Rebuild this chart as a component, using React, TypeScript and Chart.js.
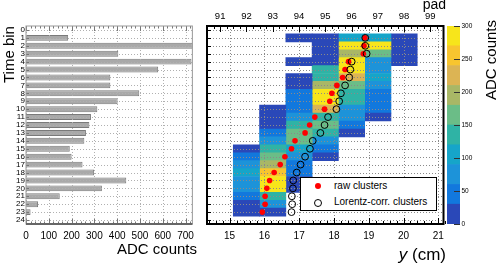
import React, { useEffect, useRef } from "react";
import { Chart, registerables } from "chart.js";

Chart.register(...registerables);

const FONT = "'Liberation Sans', Arial, Helvetica, sans-serif";

// ---------------- data ----------------
const timeBins = [0, 1, 2, 3, 4, 5, 6, 7, 8, 9, 10, 11, 12, 13, 14, 15, 16, 17, 18, 19, 20, 21, 22, 23, 24];
const timeBinLabels = ["0", "1", "2", "3", "4", "5", "6", "7", "8", "9", "10", "11", "12", "13", "14", "15", "16", "17", "18", "19", "20", "21", "22", "23", "24"];
const binAdcCounts = [0, 185, 732, 405, 726, 580, 370, 370, 497, 402, 313, 285, 278, 263, 256, 192, 200, 248, 299, 440, 333, 148, 53, 20, 0];
const adcTickValues = [0, 100, 200, 300, 400, 500, 600, 700];

const padNumbers = [91, 92, 93, 94, 95, 96, 97, 98, 99];
const yCmTicks = [15, 16, 17, 18, 19, 20, 21];
const colorBarTicks = [0, 50, 100, 150, 200, 250, 300];
const colorLevels = [0, 30, 60, 90, 120, 150, 180, 210, 240, 270, 300];
const levelColors = ["#2a48b8", "#1278dd", "#1d93d9", "#16a5c9", "#2fb3a5", "#6bbd87", "#a9b766", "#dcb454", "#f8c52f", "#f7e51b"];

// ADC counts per pad, indexed by time bin (null = empty cell)
const pad91: (number | null)[] = [null, null, null, null, null, null, null, null, null, null, null, null, null, null, null, null, null, null, null, null, null, null, null, null, null];
const pad92: (number | null)[] = [null, null, null, null, null, null, null, null, null, null, null, null, null, null, null, 20, 45, 70, 100, 80, 60, 40, 20, 15, null];
const pad93: (number | null)[] = [null, null, null, null, null, null, null, null, null, null, 15, 15, 20, 40, 60, 130, 160, 200, 240, 290, 285, 120, 70, 25, null];
const pad94: (number | null)[] = [null, 15, null, null, 15, null, 15, 15, 35, 40, 45, 70, 120, 170, 150, 90, 60, 40, 30, 25, 15, null, null, null, null];
const pad95: (number | null)[] = [null, 15, 15, 20, 25, 130, 140, 190, 285, 280, 230, 140, 170, 130, 80, 40, 20, null, null, null, null, null, null, null, null];
const pad96: (number | null)[] = [null, 100, 285, 200, 280, 285, 220, 150, 130, 140, 80, 60, 40, 20, null, null, null, null, null, null, null, null, null, null, null];
const pad97: (number | null)[] = [null, 100, 280, 160, 70, 70, 100, 60, 50, 40, 30, 20, null, null, null, null, null, null, null, null, null, null, null, null, null];
const pad98: (number | null)[] = [null, 15, 15, 15, 15, null, null, null, null, null, null, null, null, null, null, null, null, null, null, null, null, null, null, null, null];
const pad99: (number | null)[] = [null, null, null, null, null, null, null, null, null, null, null, null, null, null, null, null, null, null, null, null, null, null, null, null, null];
const padColumns = [pad91, pad92, pad93, pad94, pad95, pad96, pad97, pad98, pad99];

// cluster positions y (cm) per time bin
const rawClusterY: (number | null)[] = [null, 18.89, 18.865, 18.845, 18.42, 18.32, 18.25, 18.085, 17.94, 17.88, 17.73, 17.45, 17.30, 17.17, 16.88, 16.78, 16.59, 16.455, 16.28, 16.15, 16.07, 16.02, 16.02, 15.94, null];
const corrClusterY: (number | null)[] = [null, 18.90, 18.90, 18.94, 18.51, 18.47, 18.44, 18.32, 18.20, 18.15, 18.07, 17.83, 17.73, 17.61, 17.39, 17.31, 17.17, 17.04, 16.93, 16.83, 16.82, 16.79, 16.80, 16.78, null];

// axis ranges
const CM_MIN = 14.35;
const CM_MAX = 21.15;
const PAD_MIN = 90.5;
const PAD_MAX = 99.5;
const ADC_MAX = 730;

// ---------------- helpers ----------------
function padToCm(p: number) {
  return CM_MIN + ((p - PAD_MIN) * (CM_MAX - CM_MIN)) / (PAD_MAX - PAD_MIN);
}
function colorFor(v: number) {
  for (let i = levelColors.length - 1; i >= 0; i--) {
    if (v >= colorLevels[i]) return levelColors[i];
  }
  return levelColors[0];
}
function steps(from: number, to: number, step: number, skipEvery?: number) {
  const out: number[] = [];
  const n = Math.round((to - from) / step);
  for (let i = 0; i <= n; i++) {
    const v = from + i * step;
    if (skipEvery && Math.abs(v / skipEvery - Math.round(v / skipEvery)) < 1e-6) continue;
    out.push(v);
  }
  return out;
}

function drawGrid(chart: any, o: any) {
  if (!o || !o.grid) return;
  const { ctx, chartArea: a } = chart;
  ctx.save();
  ctx.beginPath();
  ctx.rect(a.left, a.top, a.right - a.left, a.bottom - a.top);
  ctx.clip();
  ctx.strokeStyle = o.gridColor;
  ctx.lineWidth = 1;
  ctx.setLineDash([1, 2]);
  for (const g of o.grid) {
    const s = chart.scales[g.axis];
    for (const v of g.values) {
      const p = Math.round(s.getPixelForValue(v)) + 0.5;
      ctx.beginPath();
      if (s.isHorizontal()) {
        ctx.moveTo(p, a.top);
        ctx.lineTo(p, a.bottom);
      } else {
        ctx.moveTo(a.left, p);
        ctx.lineTo(a.right, p);
      }
      ctx.stroke();
    }
  }
  ctx.restore();
}

function drawTicksAndFrame(chart: any, o: any) {
  if (!o) return;
  const { ctx, chartArea: a } = chart;
  ctx.save();
  if (o.ticks) {
    ctx.strokeStyle = o.tickColor;
    ctx.lineWidth = 1;
    for (const t of o.ticks) {
      const s = chart.scales[t.axis];
      for (const v of t.values) {
        const p = Math.round(s.getPixelForValue(v)) + 0.5;
        ctx.beginPath();
        if (t.edge === "bottom") {
          ctx.moveTo(p, a.bottom);
          ctx.lineTo(p, a.bottom - t.len);
        } else if (t.edge === "top") {
          ctx.moveTo(p, a.top);
          ctx.lineTo(p, a.top + t.len);
        } else if (t.edge === "left") {
          ctx.moveTo(a.left, p);
          ctx.lineTo(a.left + t.len, p);
        } else {
          ctx.moveTo(a.right, p);
          ctx.lineTo(a.right - t.len, p);
        }
        ctx.stroke();
      }
    }
  }
  if (o.frameWidth) {
    ctx.strokeStyle = o.frameColor;
    ctx.lineWidth = o.frameWidth;
    ctx.strokeRect(a.left, a.top, a.right - a.left, a.bottom - a.top);
  }
  if (o.bottomWidth) {
    ctx.strokeStyle = o.bottomColor;
    ctx.lineWidth = o.bottomWidth;
    ctx.beginPath();
    ctx.moveTo(a.left, a.bottom);
    ctx.lineTo(a.right, a.bottom);
    ctx.stroke();
  }
  ctx.restore();
}

const rootDeco = {
  id: "rootDeco",
  beforeDatasetsDraw(chart: any) {
    chart.$gridDone = false;
  },
  beforeDatasetDraw(chart: any, args: any, opts: any) {
    if (args.meta.type === "scatter" && !chart.$gridDone) {
      drawGrid(chart, opts);
      chart.$gridDone = true;
    }
  },
  afterDatasetsDraw(chart: any, _args: any, opts: any) {
    if (!chart.$gridDone) {
      drawGrid(chart, opts);
      chart.$gridDone = true;
    }
  },
  afterDraw(chart: any, _args: any, opts: any) {
    drawTicksAndFrame(chart, opts);
  },
};

Chart.defaults.font.family = FONT;
Chart.defaults.color = "#000";

export default function App() {
  const leftRef = useRef<HTMLCanvasElement>(null);
  const mapRef = useRef<HTMLCanvasElement>(null);
  const barRef = useRef<HTMLCanvasElement>(null);

  useEffect(() => {
    const charts: Chart[] = [];

    // ---------- left: ADC counts per time bin ----------
    charts.push(
      new Chart(leftRef.current!, {
        type: "bar",
        data: {
          labels: timeBinLabels,
          datasets: [
            {
              label: "ADC counts",
              data: binAdcCounts,
              backgroundColor: "#a9a9a9",
              borderColor: "#7a7a7a",
              borderWidth: 1,
              barPercentage: 0.75,
              categoryPercentage: 1,
            },
          ],
        },
        options: {
          indexAxis: "y",
          animation: false,
          responsive: false,
          maintainAspectRatio: false,
          layout: { padding: { top: 26, right: 3, left: 0, bottom: 0 } },
          plugins: {
            legend: { display: false },
            tooltip: { enabled: false },
            rootDeco: {
              gridColor: "#b0b0b0",
              grid: [
                { axis: "x", values: adcTickValues },
                { axis: "y", values: timeBins },
              ],
              tickColor: "#777",
              ticks: [
                { axis: "x", edge: "bottom", len: 5, values: adcTickValues },
                { axis: "x", edge: "bottom", len: 2.5, values: steps(0, 720, 20, 100) },
                { axis: "x", edge: "top", len: 5, values: adcTickValues },
                { axis: "x", edge: "top", len: 2.5, values: steps(0, 720, 20, 100) },
                { axis: "y", edge: "left", len: 3, values: timeBins },
              ],
              frameColor: "#999",
              frameWidth: 1,
              bottomColor: "#666",
              bottomWidth: 2,
            },
          } as any,
          scales: {
            x: {
              type: "linear",
              min: 0,
              max: ADC_MAX,
              offset: false,
              afterBuildTicks: (s: any) => {
                s.ticks = adcTickValues.map((v) => ({ value: v }));
              },
              afterFit: (s: any) => {
                s.height = 40;
              },
              grid: { display: false, drawTicks: false },
              border: { display: false },
              ticks: { font: { size: 10 }, color: "#000", padding: 6, maxRotation: 0 },
            },
            y: {
              type: "category",
              afterFit: (s: any) => {
                s.width = 26;
              },
              grid: { display: false, drawTicks: false },
              border: { display: false },
              ticks: { font: { size: 8 }, color: "#000", padding: 1, autoSkip: false },
            },
          },
        },
        plugins: [rootDeco as any],
      })
    );

    // ---------- right: pad x time bin map ----------
    const padDatasets = padNumbers.map((p, k) => {
      const col = padColumns[k];
      const cells = timeBins
        .filter((b) => col[b] !== null)
        .map((b) => ({ x: [padToCm(p - 0.5), padToCm(p + 0.5)], y: b, v: col[b] as number }));
      return {
        type: "bar" as const,
        label: "pad " + p,
        data: cells as any,
        indexAxis: "y" as const,
        grouped: false,
        barPercentage: 1,
        categoryPercentage: 1,
        borderWidth: 0,
        backgroundColor: (ctx: any) => (ctx.raw ? colorFor(ctx.raw.v) : "rgba(0,0,0,0)"),
        xAxisID: "x",
        yAxisID: "y",
        order: 2,
      };
    });
    const rawPts = timeBins.filter((b) => rawClusterY[b] !== null).map((b) => ({ x: rawClusterY[b] as number, y: b }));
    const corrPts = timeBins.filter((b) => corrClusterY[b] !== null).map((b) => ({ x: corrClusterY[b] as number, y: b }));

    charts.push(
      new Chart(mapRef.current!, {
        type: "bar",
        data: {
          datasets: [
            {
              type: "scatter",
              label: "raw clusters",
              data: rawPts,
              indexAxis: "x",
              pointRadius: 2.8,
              pointBackgroundColor: "#ff0000",
              pointBorderWidth: 0,
              pointBorderColor: "#ff0000",
              xAxisID: "x",
              yAxisID: "y",
              order: 1,
            } as any,
            {
              type: "scatter",
              label: "Lorentz-corr. clusters",
              data: corrPts,
              indexAxis: "x",
              pointRadius: 3.4,
              pointBackgroundColor: "rgba(0,0,0,0)",
              pointBorderColor: "#000",
              pointBorderWidth: 1,
              xAxisID: "x",
              yAxisID: "y",
              order: 0,
            } as any,
            ...(padDatasets as any[]),
          ],
        },
        options: {
          animation: false,
          responsive: false,
          maintainAspectRatio: false,
          layout: { padding: { top: 0, right: 4, left: 0, bottom: 0 } },
          plugins: {
            legend: { display: false },
            tooltip: { enabled: false },
            rootDeco: {
              gridColor: "#8a8a8a",
              grid: [
                { axis: "x", values: yCmTicks },
                { axis: "y", values: timeBins },
              ],
              tickColor: "#000",
              ticks: [
                { axis: "x", edge: "bottom", len: 6, values: yCmTicks },
                { axis: "x", edge: "bottom", len: 3, values: steps(14.4, 21.1, 0.2, 1) },
                { axis: "x2", edge: "top", len: 6, values: padNumbers },
                { axis: "x2", edge: "top", len: 3, values: steps(90.75, 99.25, 0.25, 1) },
                { axis: "y", edge: "left", len: 4, values: timeBins },
              ],
              frameColor: "#000",
              frameWidth: 2,
            },
          } as any,
          scales: {
            x: {
              type: "linear",
              position: "bottom",
              min: CM_MIN,
              max: CM_MAX,
              offset: false,
              afterBuildTicks: (s: any) => {
                s.ticks = yCmTicks.map((v) => ({ value: v }));
              },
              afterFit: (s: any) => {
                s.height = 40;
              },
              grid: { display: false, drawTicks: false, offset: false },
              border: { display: false },
              ticks: { font: { size: 10 }, color: "#000", padding: 6, maxRotation: 0 },
            },
            x2: {
              type: "linear",
              position: "top",
              min: PAD_MIN,
              max: PAD_MAX,
              offset: false,
              afterBuildTicks: (s: any) => {
                s.ticks = padNumbers.map((v) => ({ value: v }));
              },
              afterFit: (s: any) => {
                s.height = 26;
              },
              grid: { display: false, drawTicks: false, offset: false },
              border: { display: false },
              ticks: { font: { size: 9.5 }, color: "#000", padding: 4, maxRotation: 0 },
            },
            y: {
              type: "linear",
              min: -0.5,
              max: 24.5,
              reverse: true,
              offset: false,
              afterBuildTicks: (s: any) => {
                s.ticks = timeBins.map((v) => ({ value: v }));
              },
              afterFit: (s: any) => {
                s.width = 7;
              },
              grid: { display: false, drawTicks: false, offset: false },
              border: { display: false },
              ticks: { display: false },
            },
          },
        },
        plugins: [rootDeco as any],
      })
    );

    // ---------- colour scale ----------
    const bandDatasets = levelColors.map((c, i) => ({
      label: colorLevels[i] + "-" + colorLevels[i + 1],
      data: [[colorLevels[i], colorLevels[i + 1]]] as any,
      backgroundColor: c,
      borderWidth: 0,
      grouped: false,
      barPercentage: 1,
      categoryPercentage: 1,
    }));
    charts.push(
      new Chart(barRef.current!, {
        type: "bar",
        data: { labels: ["ADC counts"], datasets: bandDatasets as any },
        options: {
          animation: false,
          responsive: false,
          maintainAspectRatio: false,
          layout: { padding: { top: 26, bottom: 40, left: 7, right: 0 } },
          plugins: {
            legend: { display: false },
            tooltip: { enabled: false },
            rootDeco: {
              tickColor: "#333",
              ticks: [{ axis: "y", edge: "right", len: 6, values: colorBarTicks }],
            },
          } as any,
          scales: {
            x: { display: false },
            y: {
              type: "linear",
              position: "right",
              min: 0,
              max: 300,
              afterBuildTicks: (s: any) => {
                s.ticks = colorBarTicks.map((v) => ({ value: v }));
              },
              afterFit: (s: any) => {
                s.width = 38;
              },
              grid: { display: false, drawTicks: false },
              border: { display: false },
              ticks: { font: { size: 6.5 }, color: "#000", padding: 1.5 },
            },
          },
        },
        plugins: [rootDeco as any],
      })
    );

    return () => charts.forEach((c) => c.destroy());
  }, []);

  const abs = (s: React.CSSProperties): React.CSSProperties => ({ position: "absolute", whiteSpace: "nowrap", ...s });

  return (
    <div style={{ position: "fixed", left: 0, top: 0, width: 498, height: 264, background: "#fff", fontFamily: FONT, color: "#000", overflow: "hidden" }}>
      <canvas ref={leftRef} width={200} height={264} style={abs({ left: 0, top: 0, width: 200, height: 264 })} />
      <canvas ref={mapRef} width={250} height={264} style={abs({ left: 200, top: 0, width: 250, height: 264 })} />
      <canvas ref={barRef} width={58} height={264} style={abs({ left: 440, top: 0, width: 58, height: 264 })} />

      <div style={abs({ left: 0, top: 83, fontSize: 15, lineHeight: "17px", transformOrigin: "0 0", transform: "rotate(-90deg)" })}>Time bin</div>
      <div style={abs({ right: 301, top: 240, fontSize: 15, lineHeight: "17px" })}>ADC counts</div>
      <div style={abs({ right: 52, top: 245, fontSize: 17, lineHeight: "19px" })}>
        <span style={{ fontStyle: "italic" }}>y</span> (cm)
      </div>
      <div style={abs({ right: 52, top: -4, fontSize: 14, lineHeight: "16px" })}>pad</div>
      <div style={abs({ left: 482, top: 100, fontSize: 15, lineHeight: "17px", transformOrigin: "0 0", transform: "rotate(-90deg)" })}>ADC counts</div>

      <div style={abs({ left: 300, top: 177, width: 137, height: 34, boxSizing: "border-box", border: "1px solid #000", background: "#fff" })}>
        <div style={abs({ left: 14, top: 5, width: 6, height: 6, borderRadius: 3, background: "#ff0000" })} />
        <div style={abs({ left: 33, top: 1, fontSize: 10, lineHeight: "14px" })}>raw clusters</div>
        <div style={abs({ left: 13, top: 21, width: 6, height: 6, borderRadius: 4, border: "1px solid #000" })} />
        <div style={abs({ left: 33, top: 17, fontSize: 10, lineHeight: "14px" })}>Lorentz-corr. clusters</div>
      </div>
    </div>
  );
}
